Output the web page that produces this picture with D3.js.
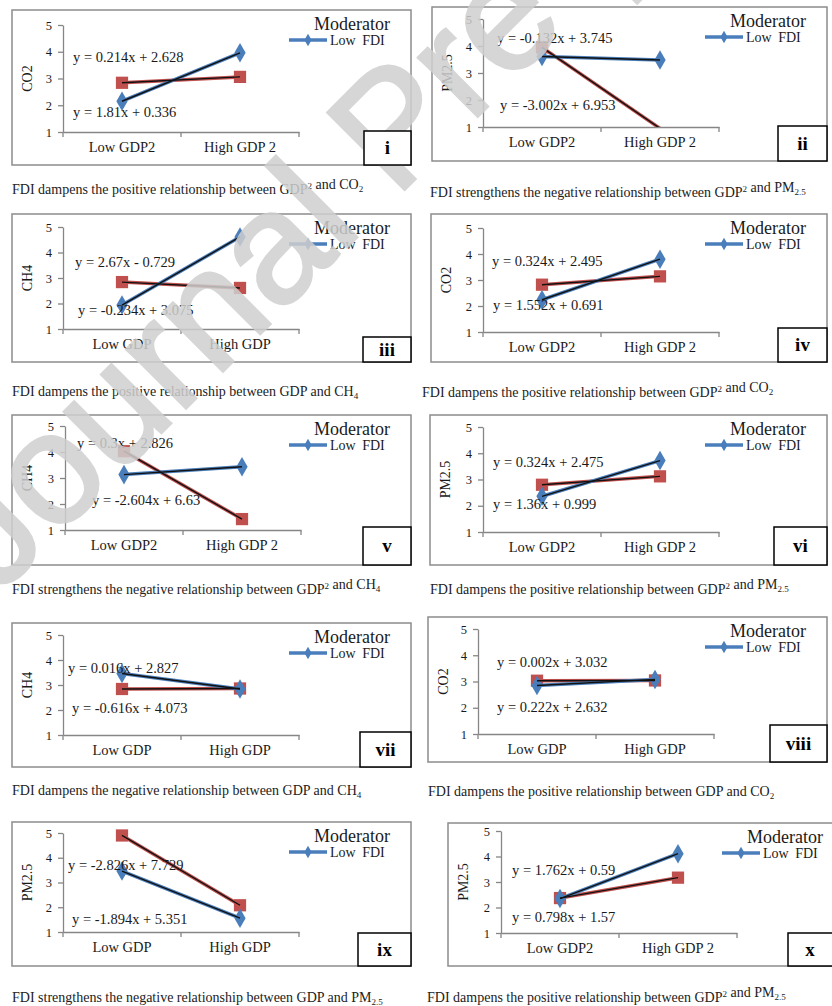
<!DOCTYPE html>
<html>
<head>
<meta charset="utf-8">
<script src="https://cdn.jsdelivr.net/npm/d3@7"></script>
<style>
  body { margin: 0; background: #fff; }
</style>
</head>
<body>
<div id="chart"></div>
<script>
// ---- data ----
var panelIds = ['i', 'ii', 'iii', 'iv', 'v', 'vi', 'vii', 'viii', 'ix', 'x'];
var yTitles  = ['CO2', 'PM2.5', 'CH4', 'CO2', 'CH4', 'PM2.5', 'CH4', 'CO2', 'PM2.5', 'PM2.5'];
var catsGDP2 = ['Low GDP2', 'High GDP 2'];
var catsGDP  = ['Low GDP', 'High GDP'];
var panelCats = [catsGDP2, catsGDP2, catsGDP, catsGDP2, catsGDP2, catsGDP2, catsGDP, catsGDP, catsGDP, catsGDP2];
var yTicks = [1, 2, 3, 4, 5];

// Low FDI (blue) and High FDI (red), values at [low, high]
var lowFDI  = [[2.15, 3.96], [3.61, 3.48], [1.94, 4.61], [2.24, 3.80], [3.13, 3.43],
               [2.36, 3.72], [3.46, 2.84], [2.85, 3.08], [3.46, 1.56], [2.35, 4.11]];
var highFDI = [[2.84, 3.06], [3.95, 0.95], [2.84, 2.61], [2.82, 3.14], [4.03, 1.42],
               [2.80, 3.12], [2.84, 2.86], [3.03, 3.04], [4.90, 2.08], [2.37, 3.17]];

var eqTop    = ['y = 0.214x + 2.628', 'y = -0.132x + 3.745', 'y = 2.67x - 0.729', 'y = 0.324x + 2.495',
                'y = 0.3x + 2.826', 'y = 0.324x + 2.475', 'y = 0.016x + 2.827', 'y = 0.002x + 3.032',
                'y = -2.826x + 7.729', 'y = 1.762x + 0.59'];
var eqBottom = ['y = 1.81x + 0.336', 'y = -3.002x + 6.953', 'y = -0.234x + 3.075', 'y = 1.552x + 0.691',
                'y = -2.604x + 6.63', 'y = 1.36x + 0.999', 'y = -0.616x + 4.073', 'y = 0.222x + 2.632',
                'y = -1.894x + 5.351', 'y = 0.798x + 1.57'];

var captions = [
  'FDI dampens the positive relationship between GDP^{2} and CO_{2}',
  'FDI strengthens the negative relationship between GDP^{2} and PM_{2.5}',
  'FDI dampens the positive relationship between GDP and CH_{4}',
  'FDI dampens the positive relationship between GDP^{2} and CO_{2}',
  'FDI strengthens the negative relationship between GDP^{2} and CH_{4}',
  'FDI dampens the positive relationship between GDP^{2} and PM_{2.5}',
  'FDI dampens the negative relationship between GDP and CH_{4}',
  'FDI dampens the positive relationship between GDP and CO_{2}',
  'FDI strengthens the negative relationship between GDP and PM_{2.5}',
  'FDI dampens the positive relationship between GDP^{2} and PM_{2.5}'
];
var legendTitle = 'Moderator',
    legendLabel = 'Low FDI',
    watermark   = 'Journal Pre-proof';

// ---- layout (pixels) ----
var boxes   = [[12, 10, 399, 155], [432, 7, 395, 154], [12, 214, 399, 148], [431, 214, 396, 148],
               [12, 415, 399, 150], [430, 415, 397, 150], [12, 623, 399, 144], [428, 617, 399, 145],
               [12, 822, 399, 144], [448, 823, 396, 143]];
var axisX   = [63, 483, 63, 483, 65, 483, 63, 478, 63, 501];
var axisTop = [25, 19, 227, 228, 426, 427, 635, 629, 833, 831];
var axisBot = [132, 127, 329, 332, 530, 532, 735, 734, 932, 933];
var numBox  = [[364, 131], [778, 126], [363, 337], [778, 328], [363, 527], [774, 527],
               [360, 732], [770, 725], [358, 933], [788, 933]];
var eqTopPos = [[73, 62], [497, 43], [75, 267], [492, 266], [77, 448], [493, 467],
                [68, 673], [497, 667], [68, 870], [512, 875]];
var eqBotPos = [[73, 117], [500, 110], [78, 315], [493, 310], [92, 505], [493, 509],
                [72, 713], [497, 712], [72, 924], [512, 922]];
var capPos  = [[12, 194], [430, 197], [12, 396], [422, 397], [12, 594], [430, 594],
               [12, 795], [428, 796], [12, 1002], [427, 1002]];

var blue = '#4a7ebb', red = '#c0504d', grid = '#868686', ink = '#1a1a1a';

var svg = d3.select('#chart').append('svg')
  .attr('width', 832)
  .attr('height', 1006)
  .attr('font-family', "'Liberation Serif', 'Times New Roman', serif");

svg.append('rect').attr('width', 832).attr('height', 1006).attr('fill', '#fff');

var defs = svg.append('defs');
var chartLayer = svg.append('g'),
    markLayer  = svg.append('g'),   // watermark
    labelLayer = svg.append('g');   // panel numeral boxes sit above the watermark

panelIds.forEach(function(id, i) {
  var b  = boxes[i],
      R  = b[0] + b[2],
      B  = b[1] + b[3],
      x0 = axisX[i];
  var g = chartLayer.append('g').attr('fill', ink);

  g.append('rect')
    .attr('x', b[0]).attr('y', b[1])
    .attr('width', b[2]).attr('height', b[3])
    .attr('fill', '#fff')
    .attr('stroke', '#8c8c8c')
    .attr('stroke-width', 1.5);

  var x = d3.scaleBand().domain(panelCats[i]).range([x0, x0 + 236]);
  var y = d3.scaleLinear().domain([1, 5]).range([axisBot[i], axisTop[i]]);

  // y axis
  var ya = g.append('g')
    .attr('transform', 'translate(' + x0 + ',0)')
    .call(d3.axisLeft(y).tickValues(yTicks).tickSize(5).tickSizeOuter(0).tickPadding(6).tickFormat(d3.format('d')));
  ya.attr('font-family', null);
  ya.selectAll('path, line').attr('stroke', grid).attr('stroke-width', 1.3);
  ya.selectAll('text').attr('font-size', 12.5).attr('fill', ink);

  // x axis, ticks sit between the categories
  var xa = g.append('g')
    .attr('transform', 'translate(0,' + axisBot[i] + ')')
    .call(d3.axisBottom(x).tickSize(0).tickPadding(10));
  xa.attr('font-family', null);
  xa.select('.domain').attr('stroke', grid).attr('stroke-width', 1.3);
  xa.selectAll('text').attr('font-size', 14.5).attr('fill', ink);
  var bounds = [x.range()[0]].concat(x.domain().map(function(d) { return x(d) + x.bandwidth(); }));
  g.selectAll('.xtick').data(bounds).join('line')
    .attr('class', 'xtick')
    .attr('x1', function(d) { return d; }).attr('x2', function(d) { return d; })
    .attr('y1', axisBot[i]).attr('y2', axisBot[i] + 5)
    .attr('stroke', grid).attr('stroke-width', 1.3);

  // y title
  g.append('text')
    .attr('transform', 'translate(' + (b[0] + 15) + ',' + ((axisTop[i] + axisBot[i]) / 2) + ') rotate(-90)')
    .attr('text-anchor', 'middle')
    .attr('dominant-baseline', 'central')
    .attr('font-size', 14)
    .text(yTitles[i]);

  // series
  defs.append('clipPath').attr('id', 'clip' + i)
    .append('rect')
    .attr('x', x0 - 10).attr('y', axisTop[i] - 10)
    .attr('width', 256).attr('height', axisBot[i] - axisTop[i] + 10);

  var plot = g.append('g').attr('clip-path', 'url(#clip' + i + ')');
  var pts = function(vals) {
    return vals.map(function(v, k) { return { c: panelCats[i][k], v: v }; });
  };
  var line = d3.line()
    .x(function(d) { return x(d.c) + x.bandwidth() / 2; })
    .y(function(d) { return y(d.v); });

  var series = [
    { vals: highFDI[i], color: red,  shape: d3.symbolSquare,  size: 150 },
    { vals: lowFDI[i],  color: blue, shape: d3.symbolDiamond, size: 110 }
  ];
  series.forEach(function(s) {
    var p = pts(s.vals);
    plot.append('path').datum(p)
      .attr('d', line).attr('fill', 'none')
      .attr('stroke', s.color).attr('stroke-width', 3.5);
    plot.selectAll(null).data(p.filter(function(d) { return d.v >= 1 && d.v <= 5; })).join('path')
      .attr('transform', function(d) { return 'translate(' + (x(d.c) + x.bandwidth() / 2) + ',' + y(d.v) + ')'; })
      .attr('d', d3.symbol().type(s.shape).size(s.size))
      .attr('fill', s.color);
  });
  // linear trend lines (two points -> straight through both)
  series.forEach(function(s) {
    plot.append('path').datum(pts(s.vals))
      .attr('d', line).attr('fill', 'none')
      .attr('stroke', '#111').attr('stroke-width', 1.4);
  });

  // equations
  g.append('text').attr('x', eqTopPos[i][0]).attr('y', eqTopPos[i][1])
    .attr('font-size', 14.5).text(eqTop[i]);
  g.append('text').attr('x', eqBotPos[i][0]).attr('y', eqBotPos[i][1])
    .attr('font-size', 14.5).text(eqBottom[i]);

  // legend
  g.append('text')
    .attr('x', R - 21).attr('y', b[1] + 20)
    .attr('text-anchor', 'end')
    .attr('font-size', 18)
    .text(legendTitle);
  g.append('line')
    .attr('x1', R - 122).attr('x2', R - 84)
    .attr('y1', b[1] + 30).attr('y2', b[1] + 30)
    .attr('stroke', blue).attr('stroke-width', 3.5);
  g.append('path')
    .attr('transform', 'translate(' + (R - 103) + ',' + (b[1] + 30) + ')')
    .attr('d', d3.symbol().type(d3.symbolDiamond).size(45))
    .attr('fill', blue);
  g.append('text')
    .attr('x', R - 81).attr('y', b[1] + 35)
    .attr('font-size', 14)
    .attr('word-spacing', 3)
    .text(legendLabel);

  // panel numeral
  var nb = numBox[i];
  labelLayer.append('rect')
    .attr('x', nb[0]).attr('y', nb[1])
    .attr('width', R - nb[0]).attr('height', B - nb[1])
    .attr('fill', '#fff').attr('stroke', '#000').attr('stroke-width', 1.5);
  labelLayer.append('text')
    .attr('x', (nb[0] + Math.min(R, 832)) / 2).attr('y', (nb[1] + B) / 2 + 6)
    .attr('text-anchor', 'middle')
    .attr('font-size', 19).attr('font-weight', 'bold')
    .attr('fill', '#000')
    .text(id);

  // caption with sub/superscripts
  var cap = chartLayer.append('text')
    .attr('x', capPos[i][0]).attr('y', capPos[i][1])
    .attr('font-size', 14)
    .attr('fill', '#222');
  captions[i].split(/(\^\{[^}]*\}|_\{[^}]*\})/).forEach(function(part) {
    if (!part) return;
    if (part[0] === '^') {
      cap.append('tspan').attr('dy', -5).attr('font-size', 9).text(part.slice(2, -1));
      cap.append('tspan').attr('dy', 5).text('');
    } else if (part[0] === '_') {
      cap.append('tspan').attr('dy', 3).attr('font-size', 9).text(part.slice(2, -1));
      cap.append('tspan').attr('dy', -3).text('');
    } else {
      cap.append('tspan').text(part);
    }
  });
});

// watermark across the page
markLayer.append('text')
  .attr('transform', 'translate(-2,596) rotate(-45)')
  .attr('font-family', "'Liberation Sans', Arial, sans-serif")
  .attr('font-size', 158)
  .attr('fill', '#cfcfcf')
  .attr('stroke', '#cfcfcf')
  .attr('stroke-width', 3)
  .attr('opacity', 0.85)
  .text(watermark);
</script>
</body>
</html>
